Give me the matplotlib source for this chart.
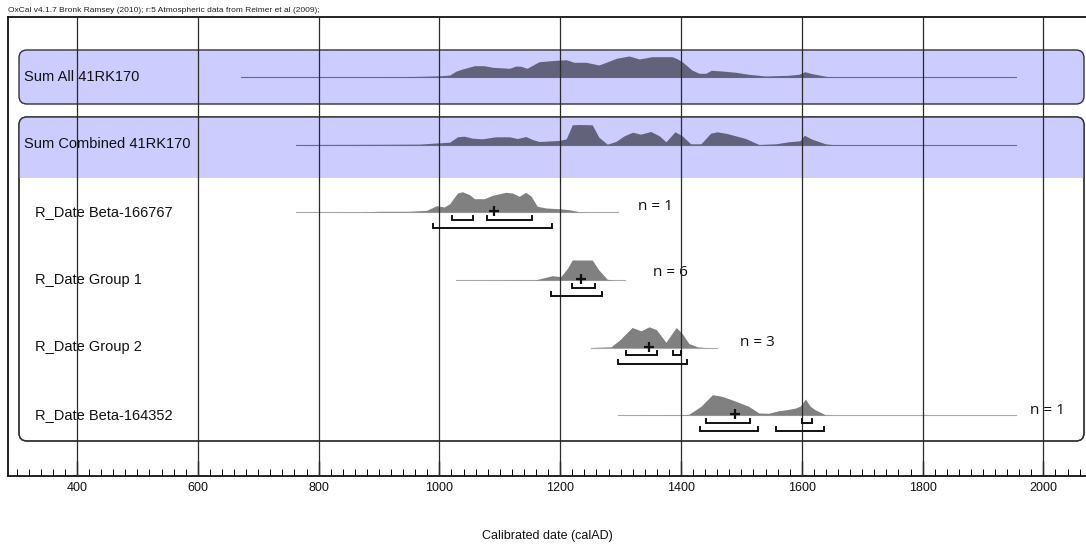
import matplotlib.pyplot as plt
from matplotlib.patches import FancyBboxPatch, Rectangle
from matplotlib.ticker import MultipleLocator
import numpy as np

# --- data (calAD years, relative probability) ---
row_names = ['Sum All 41RK170', 'Sum Combined 41RK170', 'R_Date Beta-166767',
             'R_Date Group 1', 'R_Date Group 2', 'R_Date Beta-164352']
n_labels = [None, None, 'n = 1', 'n = 6', 'n = 3', 'n = 1']

sum_all_years = [671, 800, 900, 960, 990, 1005, 1017, 1028, 1038, 1058, 1074, 1088, 1116,
                 1127, 1135, 1145, 1165, 1193, 1210, 1223, 1243, 1264, 1276, 1293, 1314,
                 1331, 1352, 1385, 1392, 1402, 1418, 1430, 1441, 1450, 1468, 1491, 1512,
                 1540, 1578, 1595, 1605, 1617, 1640, 1650, 1955]
sum_all_prob = [0, 0.1, 0.3, 0.6, 1.0, 1.4, 2, 6, 8, 11.3, 11.3, 9.7, 8.7,
                11, 10.7, 8.7, 15.3, 16.7, 17.3, 14.7, 14.7, 12, 14.7, 18.7, 21,
                18, 20.3, 20.3, 18.7, 15.3, 7, 3.7, 3.7, 6.7, 6, 4.7, 2.7,
                1, 1.7, 2.7, 5.3, 3.3, 0.7, 0, 0]

sum_comb_years = [762, 900, 967, 1000, 1017, 1030, 1041, 1055, 1071, 1093, 1116, 1129, 1143,
                  1154, 1165, 1187, 1198, 1210, 1220, 1231, 1253, 1264, 1278, 1292, 1306,
                  1320, 1333, 1350, 1364, 1375, 1380, 1390, 1402, 1416, 1433, 1449, 1460,
                  1476, 1507, 1529, 1557, 1578, 1597, 1604, 1617, 1639, 1650, 1955]
sum_comb_prob = [0, 0.2, 0.4, 1.7, 2.3, 7.7, 8.3, 6.3, 5.7, 7.7, 7.7, 6, 8,
                 5, 3, 3.7, 4, 5.7, 19.7, 20, 19.7, 7.3, 0.3, 3, 8.7,
                 12.3, 10.3, 13, 8.7, 2.7, 6, 12.7, 8.7, 0.7, 0.7, 11.3, 12.7,
                 11, 6, 0, 0.7, 2.7, 3.7, 9.3, 5.3, 0.7, 0, 0]

beta166767_years = [762, 868, 901, 950, 979, 995, 1008, 1017, 1030, 1038, 1050, 1058, 1074,
                    1088, 1110, 1121, 1132, 1143, 1152, 1162, 1177, 1198, 1215, 1231, 1250, 1295]
beta166767_prob = [0, 0.1, 0.7, 0.7, 1.7, 6.3, 5, 8.3, 19, 20.3, 17.3, 13.3, 13.3,
                   16.7, 19.7, 19, 15.7, 19.7, 15.7, 5.7, 4, 3.3, 2.3, 0.3, 0, 0]

group1_years = [1027, 1100, 1160, 1187, 1201, 1212, 1220, 1253, 1264, 1278, 1290, 1307]
group1_prob = [0, 0.1, 0.3, 4.3, 3.3, 11.7, 20, 20, 10, 0.7, 0, 0]

group2_years = [1251, 1284, 1298, 1319, 1334, 1347, 1359, 1375, 1392, 1402, 1413, 1427, 1440, 1460]
group2_prob = [0, 0.7, 7.3, 20, 16.7, 20.7, 18, 5.3, 20, 14, 4, 0.7, 0, 0]

beta164352_years = [1295, 1400, 1413, 1433, 1452, 1468, 1491, 1512, 1529, 1545, 1562, 1575,
                    1590, 1598, 1606, 1614, 1622, 1639, 1650, 1955]
beta164352_prob = [0, 0.2, 0.7, 8.7, 20.3, 18.7, 13.7, 8.7, 2, 1.7, 4.3, 5.3,
                   7, 9.3, 16, 8.7, 5.3, 0.3, 0, 0]

# 68.2% / 95.4% ranges and means for the R_Date rows
sigma1 = [[(1021, 1055), (1078, 1154)], [(1219, 1258)],
          [(1309, 1360), (1387, 1400)], [(1441, 1514), (1600, 1617)]]
sigma2 = [[(990, 1187)], [(1185, 1270)], [(1296, 1410)], [(1431, 1527), (1558, 1636)]]
means = [1091, 1235, 1347, 1489]

dists = [(sum_all_years, sum_all_prob), (sum_comb_years, sum_comb_prob),
         (beta166767_years, beta166767_prob), (group1_years, group1_prob),
         (group2_years, group2_prob), (beta164352_years, beta164352_prob)]

# --- layout (pixels) ---
W, H = 1086, 548
row_y = [77, 144.5, 212, 280, 347.5, 415]
label_x = [24, 24, 35, 35, 35, 35]
n_pos = [None, None, (638, 206), (653, 273), (740, 342), (1030, 410)]
lavender = '#ccccff'
sum_fill = '#62627a'
date_fill = '#808080'

fig = plt.figure(figsize=(W / 100, H / 100), dpi=100)

# background layer in pixel coordinates: boxes and labels
bg = fig.add_axes([0, 0, 1, 1], zorder=0)
bg.set_xlim(0, W)
bg.set_ylim(H, 0)
bg.axis('off')

box1 = FancyBboxPatch((19, 50), 1065, 54, boxstyle='round,pad=0,rounding_size=8',
                      facecolor=lavender, edgecolor='#333333', linewidth=1)
bg.add_patch(box1)
box2 = FancyBboxPatch((19, 117), 1065, 324, boxstyle='round,pad=0,rounding_size=8',
                      facecolor='white', edgecolor='#333333', linewidth=1)
bg.add_patch(box2)
top2 = Rectangle((19, 117), 1065, 61, facecolor=lavender, edgecolor='none')
bg.add_patch(top2)
top2.set_clip_path(box2)
box2_edge = FancyBboxPatch((19, 117), 1065, 324, boxstyle='round,pad=0,rounding_size=8',
                           facecolor='none', edgecolor='#333333', linewidth=1)
bg.add_patch(box2_edge)

for name, lx, y in zip(row_names, label_x, row_y):
    bg.text(lx, y, name, fontsize=10.5, family='Liberation Sans',
            ha='left', va='center', color='#111111')
for lab, pos in zip(n_labels, n_pos):
    if lab:
        bg.text(pos[0], pos[1], lab, fontsize=11, family='Open Sans',
                ha='left', va='center', color='#111111')

bg.text(8, 14, 'OxCal v4.1.7 Bronk Ramsey (2010); r:5 Atmospheric data from Reimer et al (2009);',
        fontsize=6, family='Liberation Sans', ha='left', va='bottom', color='#222222')

# main axis: calendar years on x, pixel rows on y
ax = fig.add_axes([8 / W, (H - 476) / H, 1 - 8 / W, (476 - 17) / H], zorder=1)
ax.patch.set_alpha(0)
ax.set_xlim(285.8, 2070.5)
ax.set_ylim(476, 17)

for i, ((yrs, prob), base) in enumerate(zip(dists, row_y)):
    yrs = np.array(yrs, dtype=float)
    prob = np.array(prob, dtype=float)
    is_sum = i < 2
    fc = sum_fill if is_sum else date_fill
    lc = '#6a6a80' if is_sum else '#a8a8a8'
    ax.plot([yrs[0], yrs[-1]], [base, base], color=lc, lw=0.8, zorder=2)
    ax.fill_between(yrs, base, base - prob, color=fc, lw=0, zorder=2)

for k in range(4):
    base = row_y[k + 2]
    for off, ranges in ((7.5, sigma1[k]), (16, sigma2[k])):
        y = base + off
        for a, b in ranges:
            ax.plot([a, a, b, b], [y - 4, y, y, y - 4], color='#111111', lw=1.4,
                    solid_joinstyle='miter', zorder=4)
    ax.plot(means[k], base - 1, marker='+', ms=7, mew=1.6, color='#111111', zorder=4)

for yr in range(400, 2001, 200):
    ax.axvline(yr, color='#2a2a2a', lw=0.9, zorder=3)

ax.spines['right'].set_visible(False)
for side in ('left', 'top', 'bottom'):
    ax.spines[side].set_linewidth(1.3)
    ax.spines[side].set_color('#111111')

ax.set_yticks([])
ax.xaxis.set_major_locator(MultipleLocator(200))
ax.xaxis.set_minor_locator(MultipleLocator(20))
ax.tick_params(axis='x', which='major', direction='in', length=11, width=1,
               pad=4, labelsize=9, colors='#111111')
ax.tick_params(axis='x', which='minor', direction='in', length=5, width=0.7)
for t in ax.get_xticklabels():
    t.set_family('Liberation Sans')

ax.set_xlabel('Calibrated date (calAD)', fontsize=9, family='Liberation Sans', color='#111111')
ax.xaxis.set_label_coords(0.5, -(536 - 476) / (476 - 17))
ax.xaxis.label.set_va('center')

fig.savefig('out.png', dpi=100)
